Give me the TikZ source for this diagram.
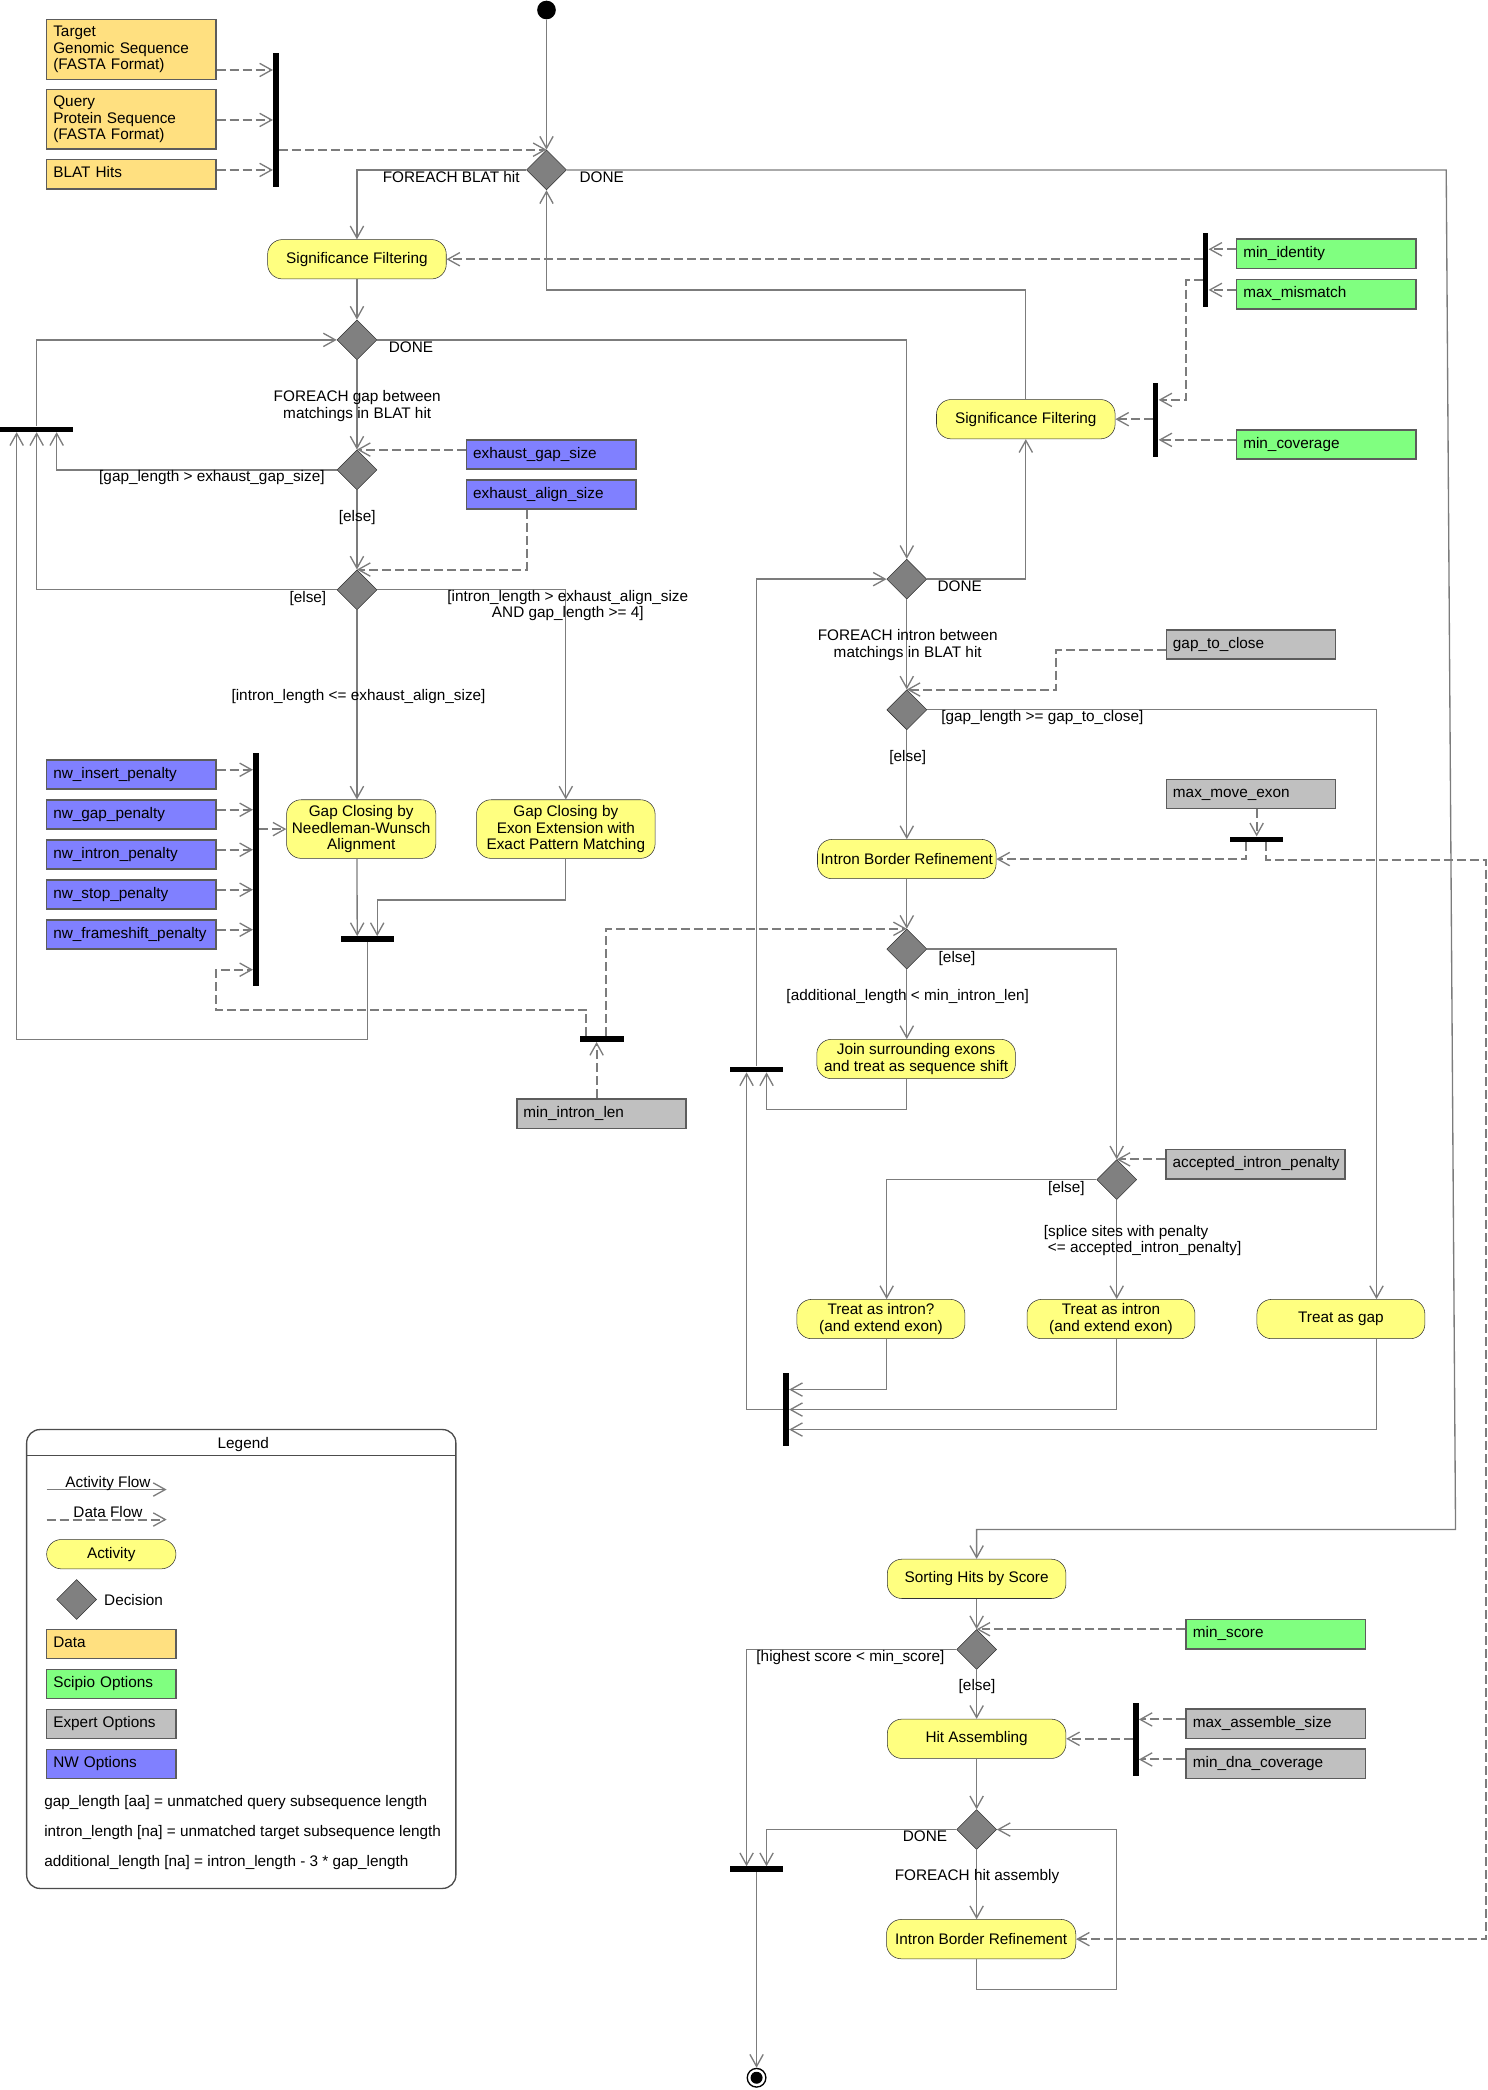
\documentclass[tikz,border=0pt]{standalone}
\usepackage{fontspec}
\setmainfont{Liberation Sans}
\usetikzlibrary{shapes.geometric,arrows.meta}
\definecolor{actfill}{HTML}{FFFF80}
\definecolor{datafill}{HTML}{FFE080}
\definecolor{scipiofill}{HTML}{80FF80}
\definecolor{expertfill}{HTML}{C0C0C0}
\definecolor{nwfill}{HTML}{8080FF}
\definecolor{decfill}{HTML}{808080}
\definecolor{flowgray}{HTML}{7C7C7C}
\definecolor{boxline}{HTML}{5C5C5C}
\begin{document}
\begin{tikzpicture}[x=1pt, y=-1pt, >={Straight Barb[length=9pt,width=10pt,line width=1pt 0 0]},
  every node/.style={font=\fontsize{11.5}{12.5}\selectfont},
  act/.style={draw=black!80, fill=actfill, rounded corners=11pt, align=center, inner sep=0pt, minimum width=#1, minimum height=29.5pt},
  act/.default=134pt,
  dec/.style={diamond, draw=black!80, fill=decfill, inner sep=0pt, minimum width=30pt, minimum height=30pt},
  box/.style={draw=boxline, line width=1.2pt, align=left, inner xsep=5pt, inner ysep=0pt, text width=117pt, minimum height=22pt},
  oneline/.style={text height=8pt, text depth=2.5pt},
  wide/.style={text width=124.5pt},
  data/.style={box, fill=datafill},
  scipio/.style={box, oneline, fill=scipiofill},
  expert/.style={box, oneline, fill=expertfill},
  nw/.style={box, oneline, fill=nwfill},
  vbar/.style={fill=black, inner sep=0pt, minimum width=4pt, minimum height=#1},
  hbar/.style={fill=black, inner sep=0pt, minimum height=4pt, minimum width=#1},
  flow/.style={draw=flowgray, line width=1pt, ->},
  dflow/.style={flow, line width=1.5pt, dash pattern=on 6.75pt off 3pt},
  lbl/.style={inner sep=0pt, text height=8pt, text depth=2.5pt},
  lbl2/.style={inner sep=0pt, align=center}]
\useasboundingbox (0,0) rectangle (1116,1568);

\node[circle, fill=black, inner sep=0pt, minimum size=14pt] (start) at (410,7.5) {};
\node[circle, draw=black, line width=1pt, inner sep=0pt, minimum size=14pt] (final) at (567.6,1558.8) {};
\fill (final.center) circle (4.5pt);

\node[data, minimum height=45pt] (target) at (98.5,37) {Target\\Genomic Sequence\\(FASTA Format)};
\node[data, minimum height=45pt] (query) at (98.5,89.5) {Query\\Protein Sequence\\(FASTA Format)};
\node[data, oneline] (blatHits) at (98.5,130.75) {BLAT Hits};
\node[scipio, wide] (minIdentity) at (995,190.5) {min\_identity};
\node[scipio, wide] (maxMismatch) at (995,220.75) {max\_mismatch};
\node[scipio, wide] (minCoverage) at (995,333.5) {min\_coverage};
\node[nw] (exhGapSize) at (413.5,341) {exhaust\_gap\_size};
\node[nw] (exhAlignSize) at (413.5,371) {exhaust\_align\_size};
\node[nw] (nwInsert) at (98.5,581) {nw\_insert\_penalty};
\node[nw] (nwGap) at (98.5,611) {nw\_gap\_penalty};
\node[nw] (nwIntron) at (98.5,641) {nw\_intron\_penalty};
\node[nw] (nwStop) at (98.5,671) {nw\_stop\_penalty};
\node[nw] (nwFrameshift) at (98.5,701) {nw\_frameshift\_penalty};
\node[expert] (gapToClose) at (938.5,483.5) {gap\_to\_close};
\node[expert] (maxMoveExon) at (938.5,595.7) {max\_move\_exon};
\node[expert] (minIntronLen) at (451.2,835.5) {min\_intron\_len};
\node[expert, wide] (acceptedPenalty) at (942,873.4) {accepted\_intron\_penalty};
\node[scipio, wide] (minScore) at (957.2,1226) {min\_score};
\node[expert, wide] (maxAsmSize) at (957.2,1293.25) {max\_assemble\_size};
\node[expert, wide] (minDnaCov) at (957.2,1323.35) {min\_dna\_coverage};

\node[act] (sigFilt1) at (267.8,194.5) {Significance Filtering};
\node[act] (sigFilt2) at (769.6,314.5) {Significance Filtering};
\node[act=112pt, minimum height=44pt] (gcNW) at (271,622) {Gap Closing by\\Needleman-Wunsch\\Alignment};
\node[act, minimum height=44pt] (gcExon) at (424.5,622) {Gap Closing by\\Exon Extension with\\Exact Pattern Matching};
\node[act] (ibr1) at (680.3,644.5) {Intron Border Refinement};
\node[act=149pt] (joinExons) at (687.3,794.5) {Join surrounding exons\\and treat as sequence shift};
\node[act=126pt] (treatIntronQ) at (660.9,989.6) {Treat as intron?\\(and extend exon)};
\node[act=126pt] (treatIntron) at (833.5,989.6) {Treat as intron\\(and extend exon)};
\node[act=126pt] (treatGap) at (1006,989.6) {Treat as gap};
\node[act] (sortHits) at (732.7,1184.5) {Sorting Hits by Score};
\node[act] (hitAsm) at (732.7,1304.5) {Hit Assembling};
\node[act=142pt] (ibr2) at (736.1,1454.8) {Intron Border Refinement};

\node[dec] (dHit) at (410,127.5) {};
\node[dec] (dGap) at (267.8,255) {};
\node[dec] (dExhGap) at (267.8,352.5) {};
\node[dec] (dAlign) at (267.8,442.5) {};
\node[dec] (dIntron) at (680.3,434.5) {};
\node[dec] (dClose) at (680.3,532.5) {};
\node[dec] (dShift) at (680.3,712) {};
\node[dec] (dSplice) at (837.8,885) {};
\node[dec] (dScore) at (732.7,1237.5) {};
\node[dec] (dAsm) at (732.7,1372.6) {};

\node[vbar=100pt] (forkData) at (207,90) {};
\node[vbar=55pt] (forkSig) at (904.5,202.5) {};
\node[vbar=55pt] (forkCov) at (867,315) {};
\node[hbar=55pt] (joinLoop) at (27.5,322) {};
\node[vbar=175pt] (forkNW) at (192,652.5) {};
\node[hbar=40pt] (joinGC) at (275.5,704.5) {};
\node[hbar=33pt] (forkMinIntron) at (451.3,779.5) {};
\node[hbar=40pt] (joinShift) at (567.6,802.3) {};
\node[hbar=40pt] (forkMove) at (942.8,629.7) {};
\node[vbar=55pt] (joinTreat) at (589.8,1057.5) {};
\node[vbar=55pt] (forkAsm) at (852.2,1305) {};
\node[hbar=40pt] (joinEnd) at (567.6,1402.3) {};

\draw[flow] (start) -- (dHit.north);
\draw[flow] (dHit.west) -| (sigFilt1.north);
\draw[flow] (dHit.east) -- (1085,127.5) -- (1092,1147.5) -| (sortHits.north);
\draw[flow] (sigFilt2.north) -- ++(0,-82) -| (dHit.south);
\draw[flow] (sigFilt1.south) -- (dGap.north);
\draw[flow] (dGap.east) -| (dIntron.north);
\draw[flow] (dGap.south) -- (dExhGap.north);
\draw[flow] (dExhGap.west) -| ([xshift=15pt]joinLoop.south);
\draw[flow] (dExhGap.south) -- (dAlign.north);
\draw[flow] (dAlign.west) -| (joinLoop.south);
\draw[flow] (joinLoop.north) |- (dGap.west);
\draw[flow] (dAlign.east) -| (gcExon.north);
\draw[flow] (dAlign.south) -- (dAlign.south |- gcNW.north);
\draw[flow] (dAlign.south |- gcNW.south) -- ([xshift=-7.5pt]joinGC.north);
\draw[flow] (gcExon.south) -- ++(0,31) -| ([xshift=7.5pt]joinGC.north);
\draw[flow] (joinGC.south) -- ++(0,73) -| ([xshift=-15pt]joinLoop.south);

\draw[flow] (dIntron.east) -| (sigFilt2.south);
\draw[flow] (joinShift.north) |- (dIntron.west);
\draw[flow] (dIntron.south) -- (dClose.north);
\draw[flow] (dClose.east) -| ([xshift=26.7pt]treatGap.north);
\draw[flow] (dClose.south) -- (ibr1.north);
\draw[flow] (ibr1.south) -- (dShift.north);
\draw[flow] (dShift.east) -| (dSplice.north);
\draw[flow] (dShift.south) -- (dShift.south |- joinExons.north);
\draw[flow] (dShift.south |- joinExons.south) -- ++(0,23) -| ([xshift=7.5pt]joinShift.south);
\draw[flow] (dSplice.west) -| ([xshift=4.3pt]treatIntronQ.north);
\draw[flow] (dSplice.south) -- (dSplice.south |- treatIntron.north);
\draw[flow] ([xshift=4.3pt]treatIntronQ.south) |- ([yshift=15pt]joinTreat.east);
\draw[flow] (dSplice.south |- treatIntron.south) |- (joinTreat.east);
\draw[flow] ([xshift=26.7pt]treatGap.south) |- ([yshift=-15pt]joinTreat.east);
\draw[flow] (joinTreat.west) -| ([xshift=-7.5pt]joinShift.south);

\draw[flow] (sortHits.south) -- (dScore.north);
\draw[flow] (dScore.west) -| ([xshift=-7.5pt]joinEnd.north);
\draw[flow] (dScore.south) -- (hitAsm.north);
\draw[flow] (hitAsm.south) -- (dAsm.north);
\draw[flow] (dAsm.west) -| ([xshift=7.5pt]joinEnd.north);
\draw[flow] (dAsm.south) -- (dAsm.south |- ibr2.north);
\draw[flow] (dAsm.south |- ibr2.south) -- ++(0,23) -- ++(105,0) |- (dAsm.east);
\draw[flow] (joinEnd.south) -- (final.north);

\draw[dflow] (target.east |- 0,52.5) -- (forkData.west |- 0,52.5);
\draw[dflow] (query.east |- 0,90) -- (forkData.west |- 0,90);
\draw[dflow] (blatHits.east |- 0,127.5) -- (forkData.west |- 0,127.5);
\draw[dflow] (forkData.east |- dHit.north) -- (dHit.north);
\draw[dflow] (minIdentity.west |- 0,187) -- (forkSig.east |- 0,187);
\draw[dflow] (maxMismatch.west |- 0,217.5) -- (forkSig.east |- 0,217.5);
\draw[dflow] (forkSig.west |- sigFilt1.east) -- (sigFilt1.east);
\draw[dflow] (forkSig.west |- 0,210) -- (890,210) |- (forkCov.east |- 0,300);
\draw[dflow] (minCoverage.west |- 0,330) -- (forkCov.east |- 0,330);
\draw[dflow] (forkCov.west |- sigFilt2.east) -- (sigFilt2.east);
\draw[dflow] (exhGapSize.west |- dExhGap.north) -- (dExhGap.north);
\draw[dflow] (exhAlignSize.south -| 395,0) |- (dAlign.north);
\draw[dflow] (nwInsert.east |- 0,577.5) -- (forkNW.west |- 0,577.5);
\draw[dflow] (nwGap.east |- 0,607.5) -- (forkNW.west |- 0,607.5);
\draw[dflow] (nwIntron.east |- 0,637.5) -- (forkNW.west |- 0,637.5);
\draw[dflow] (nwStop.east |- 0,667.5) -- (forkNW.west |- 0,667.5);
\draw[dflow] (nwFrameshift.east |- 0,697.5) -- (forkNW.west |- 0,697.5);
\draw[dflow] (forkNW.east |- gcNW.west) -- (gcNW.west);
\draw[dflow] (minIntronLen.north -| 447.6,0) -- (forkMinIntron.south -| 447.6,0);
\draw[dflow] (forkMinIntron.north -| 440,0) -- (440,757.5) -- (162,757.5) |- (forkNW.west |- 0,727.5);
\draw[dflow] (forkMinIntron.north -| 455,0) |- (dShift.north);
\draw[dflow] (gapToClose.west |- 0,487.5) -- (792.6,487.5) |- (dClose.north);
\draw[dflow] (maxMoveExon.south -| forkMove.north) -- (forkMove.north);
\draw[dflow] (forkMove.south -| 935,0) |- (ibr1.east);
\draw[dflow] (forkMove.south -| 950,0) |- (1114.8,645) |- (ibr2.east);
\draw[dflow] (acceptedPenalty.west |- dSplice.north) -- (dSplice.north);
\draw[dflow] (minScore.west |- dScore.north) -- (dScore.north);
\draw[dflow] (maxAsmSize.west |- 0,1290) -- (forkAsm.east |- 0,1290);
\draw[dflow] (minDnaCov.west |- 0,1320) -- (forkAsm.east |- 0,1320);
\draw[dflow] (forkAsm.west |- hitAsm.east) -- (hitAsm.east);

\node[lbl] at (338.5,134.5) {FOREACH BLAT hit};
\node[lbl] at (451.5,134.5) {DONE};
\node[lbl] at (308.3,262) {DONE};
\node[lbl2] at (268,304.5) {FOREACH gap between\\matchings in BLAT hit};
\node[lbl] at (159,358.75) {[gap\_length > exhaust\_gap\_size]};
\node[lbl] at (268,388.75) {[else]};
\node[lbl] at (231,449.5) {[else]};
\node[lbl2] at (426,454.25) {[intron\_length > exhaust\_align\_size\\AND gap\_length >= 4]};
\node[lbl] at (269,522.5) {[intron\_length <= exhaust\_align\_size]};
\node[lbl] at (720,441) {DONE};
\node[lbl2] at (681,484) {FOREACH intron between\\matchings in BLAT hit};
\node[lbl] at (782,538.7) {[gap\_length >= gap\_to\_close]};
\node[lbl] at (681,568.7) {[else]};
\node[lbl] at (718,719.4) {[else]};
\node[lbl] at (681,748) {[additional\_length < min\_intron\_len]};
\node[lbl] at (800,892) {[else]};
\node[lbl2, align=left, anchor=west] at (783,930.7) {[splice sites with penalty\\\hspace{3pt}<= accepted\_intron\_penalty]};
\node[lbl] at (638,1244) {[highest score < min\_score]};
\node[lbl] at (733,1265.5) {[else]};
\node[lbl] at (694,1379) {DONE};
\node[lbl] at (733,1408) {FOREACH hit assembly};

\draw[black!70, line width=1pt, rounded corners=10pt] (20,1072.5) rectangle (342,1416.75);
\draw[black!70, line width=1pt] (20,1091.75) -- (342,1091.75);
\node[lbl] at (182.5,1084) {Legend};
\coordinate (legFlowA) at (35,1117.5);
\coordinate (legFlowB) at (125,1117.5);
\coordinate (legDataA) at (35,1140);
\coordinate (legDataB) at (125,1140);
\draw[flow] (legFlowA) -- (legFlowB);
\draw[dflow] (legDataA) -- (legDataB);
\node[lbl] at (81,1113) {Activity Flow};
\node[lbl] at (81,1135.5) {Data Flow};
\node[act=97pt, minimum height=22pt] (legAct) at (83.5,1166) {Activity};
\node[dec] (legDec) at (57.5,1200) {};
\node[lbl, anchor=west] at (78,1202) {Decision};
\node[data, oneline, text width=87pt] (legData) at (83.5,1233.4) {Data};
\node[scipio, text width=87pt] (legScipio) at (83.5,1263.4) {Scipio Options};
\node[expert, text width=87pt] (legExpert) at (83.5,1293.4) {Expert Options};
\node[nw, text width=87pt] (legNW) at (83.5,1323.4) {NW Options};
\node[lbl, anchor=west] at (33,1352.5) {gap\_length [aa] = unmatched query subsequence length};
\node[lbl, anchor=west] at (33,1375) {intron\_length [na] = unmatched target subsequence length};
\node[lbl, anchor=west] at (33,1397.5) {additional\_length [na] = intron\_length - 3 * gap\_length};
\end{tikzpicture}
\end{document}
